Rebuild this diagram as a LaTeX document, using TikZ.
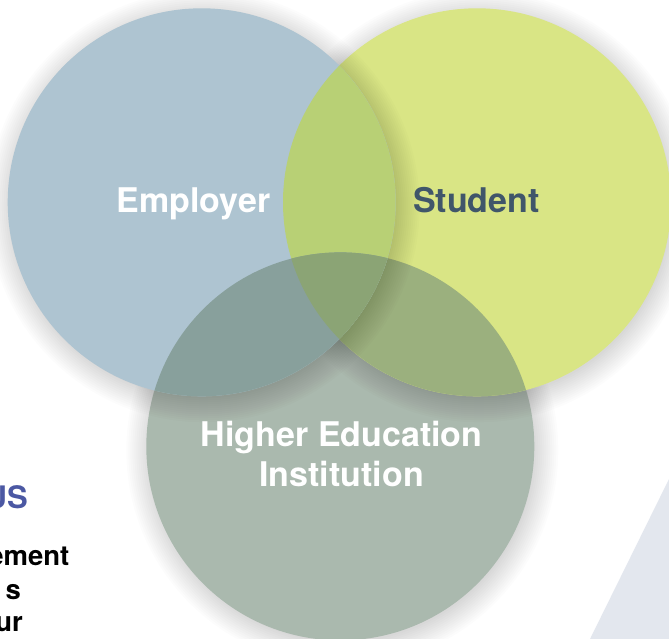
\documentclass[tikz,border=0pt]{standalone}
\usepackage{fontspec}
\setmainfont{TeX Gyre Heros}
\definecolor{empC}{HTML}{AEC4D1}
\definecolor{stuC}{HTML}{D9E585}
\definecolor{heiC}{HTML}{AAB9AE}
\definecolor{esC}{HTML}{B8D075}
\definecolor{ehC}{HTML}{88A09C}
\definecolor{shC}{HTML}{9BB07E}
\definecolor{eshC}{HTML}{8BA475}
\definecolor{stuText}{HTML}{40566A}
\definecolor{usC}{HTML}{4B58A3}
\definecolor{triC}{HTML}{E3E7EE}
\newcommand{\dropshade}[1]{%
  \foreach \k in {0,...,12}{\fill[black,opacity=0.013] ([shift={(2,4)}]#1) circle [radius={(192+2*\k)*1pt}];}%
}
\tikzset{
  lbl/.style={inner sep=0pt, anchor=base, font=\bfseries\fontsize{34}{40}\selectfont},
  sidetxt/.style={inner sep=0pt, anchor=base east, font=\bfseries\fontsize{27.5}{33}\selectfont, text=black},
}
\begin{document}
\begin{tikzpicture}[x=1pt,y=-1pt]
\useasboundingbox (0,0) rectangle (669,639);
\fill[white] (0,0) rectangle (669,639);
\coordinate (E) at (201.7,202.3);
\coordinate (S) at (477,202.3);
\coordinate (H) at (340.3,446.4);
% background triangle
\fill[triC] (669,479) -- (590,639) -- (669,639) -- cycle;
% Higher education circle (bottom)
\dropshade{H}
\fill[heiC] (H) circle [radius=194pt];
% Student circle
\dropshade{S}
\fill[stuC] (S) circle [radius=194pt];
\begin{scope}
  \clip (S) circle [radius=194pt];
  \fill[shC] (H) circle [radius=194pt];
\end{scope}
% Employer circle (top)
\dropshade{E}
\fill[empC] (E) circle [radius=194pt];
\begin{scope}
  \clip (E) circle [radius=194pt];
  \fill[esC] (S) circle [radius=194pt];
  \fill[ehC] (H) circle [radius=194pt];
  \clip (S) circle [radius=194pt];
  \fill[eshC] (H) circle [radius=194pt];
\end{scope}
% labels
\node[lbl, text=white] (emp) at (193.5,212.7) {Employer};
\node[lbl, text=stuText] (stu) at (476.3,212.3) {Student};
\node[lbl, text=white] (he1) at (341.7,446) {Higher Education};
\node[lbl, text=white] (he2) at (341.7,486.7) {Institution};
% cut-off text at the left
\node[inner sep=0pt, anchor=base east, font=\bfseries\fontsize{31}{37}\selectfont, text=usC] (us) at (28,508) {US};
\node[sidetxt] (t1) at (69.5,565) {ement};
\node[sidetxt] (t2) at (21,599) {s};
\node[sidetxt] (t3) at (23,631) {ur};
\end{tikzpicture}
\end{document}
